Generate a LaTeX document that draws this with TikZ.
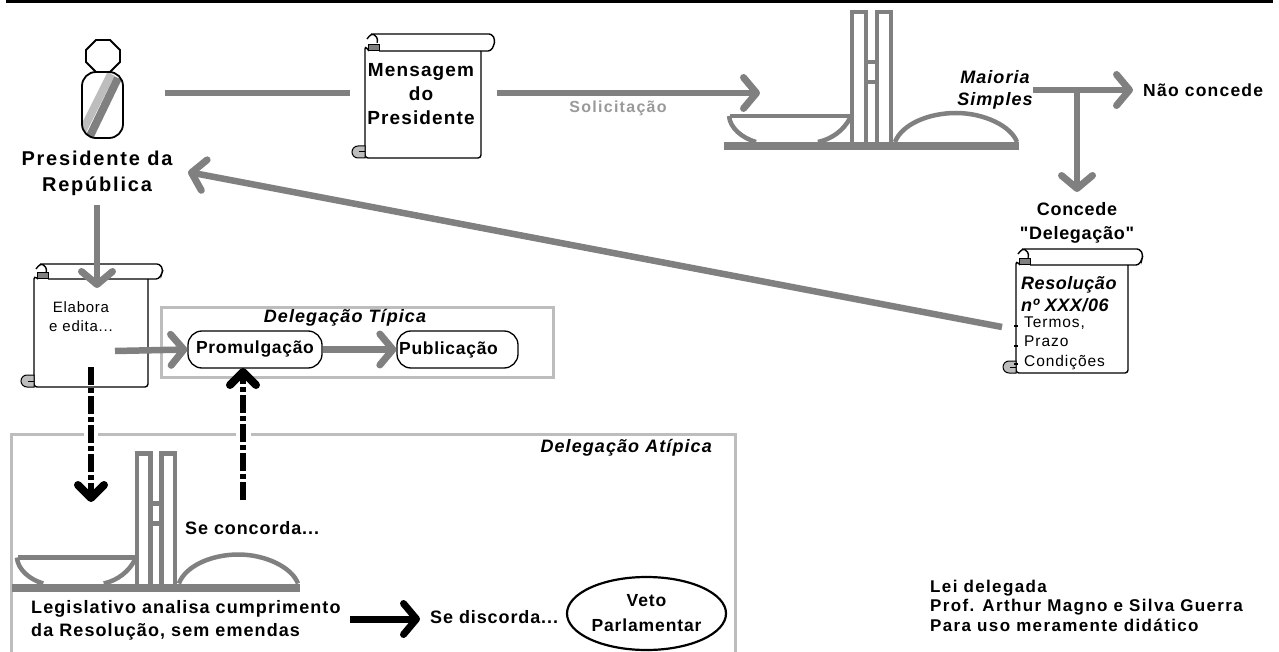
\documentclass[tikz,border=0pt]{standalone}
\usepackage{fontspec}
\setmainfont{Liberation Sans}[Ligatures=TeXOff]
\usetikzlibrary{arrows.meta,shapes.geometric,calc}
\definecolor{linegray}{gray}{0.5}
\definecolor{boxgray}{gray}{0.74}
\newcommand{\fnt}[3]{\fontsize{#1}{#2}\selectfont\addfontfeature{LetterSpace=#3}}
\tikzset{
  grayarrow/.style={draw=linegray,line width=6.5pt,-{Straight Barb[length=13pt,width=31pt,line width=7pt,round]}},
  grayline/.style={draw=linegray,line width=6.5pt},
  blackdash/.style={draw=black,line width=6pt,dash pattern=on 18pt off 3pt on 5pt off 3pt,-{Straight Barb[length=13pt,width=26pt,line width=8pt,round]}},
  group/.style={draw=boxgray,line width=3pt},
  txt/.style={inner sep=0pt},
  pill/.style={draw=black,line width=1.3pt,rounded corners=14pt,inner sep=0pt,minimum height=37pt,font=\bfseries\fnt{17.5}{20}{4}},
  holder/.style={draw=none,inner sep=0pt,outer sep=0pt,anchor=north west},
  scrollline/.style={draw=black,line width=1.4pt},
  congress/.style={draw=linegray,line width=4.5pt},
}
% #1 name, #2 left, #3 right, #4 roll top, #5 roll bottom, #6 body bottom, #7 roll right
\newcommand{\scrollshape}[7]{%
  \draw[scrollline,rounded corners=3pt] (#2+4,#5) -- (#2,#4+12) -- (#2,#6) -- (#3,#6) -- (#3,#5);
  \draw[scrollline,rounded corners=3pt] (#2+2,#4+5) -- (#2+6,#4) -- (#7-3,#4) -- (#7,#4+6) -- (#7-1,#5-6) -- (#7-4,#5) -- (#2+14,#5);
  \draw[scrollline] (#2+6,#4) arc[start angle=90,end angle=-20,radius=6.5pt];
  \draw[draw=black,fill=linegray,line width=1pt] (#2+3,#5-6) rectangle (#2+14,#5);
  \draw[draw=black,fill=boxgray,line width=1pt] (#2,#6-12) -- (#2-7,#6-12) arc[start angle=90,end angle=270,radius=6pt] -- (#2,#6) -- cycle;
  \draw[black,line width=1pt] (#2-6,#6-6) -- (#2,#6-6);
  \node[holder,minimum width=#3pt-#2pt,minimum height=#6pt-#4pt] (#1) at (#2,#4) {};
}
% #1 x of base left, #2 y of base top, #3 xscale
\newcommand{\congressshape}[3]{%
  \begin{scope}[shift={(#1,#2)},xscale=#3]
    \fill[linegray] (0,0) rectangle (295,8.5);
    \draw[congress] (128,0) -- (128,-130) -- (142,-130) -- (142,0);
    \draw[congress] (153,0) -- (153,-130) -- (167,-130) -- (167,0);
    \draw[congress] (142,-80) -- (153,-80) (142,-60) -- (153,-60);
    \draw[congress] (6,-26) -- (127,-26);
    \draw[congress] (5,-26) .. controls (6,-14) and (18,-4) .. (32,0);
    \draw[congress] (126,-24) .. controls (120,-12) and (108,-3) .. (94,0);
    \draw[congress] (171,0) .. controls (178,-18) and (205,-29) .. (232,-29) .. controls (260,-29) and (287,-16) .. (293,0);
  \end{scope}}
\begin{document}
\begin{tikzpicture}[x=1pt,y=-1pt]
\useasboundingbox (0,0) rectangle (1279,652);
\fill[black] (6,0) rectangle (1273,3.5);

% President figure
\node[holder,minimum width=41pt,minimum height=98pt] (person) at (82,40) {};
\begin{scope}
  \clip[rounded corners=14pt] (82,72) rectangle (123,138);
  \draw[boxgray,line width=8pt] (111,74) -- (83,130);
  \draw[linegray,line width=8pt] (118,78) -- (90,136);
\end{scope}
\draw[black,line width=1.8pt,rounded corners=14pt] (82,72) rectangle (123,138);
\draw[black,line width=1.8pt] (96,40) -- (110,40) -- (120,50) -- (120,62) -- (110,72) -- (96,72) -- (86,62) -- (86,50) -- cycle;
\node[txt,font=\bfseries\fnt{20}{26}{9},align=center] (pres) at (97,173) {Presidente da\\República};

% Scrolls
\scrollshape{msg}{365}{481}{34}{51}{158}{495}
\node[txt,font=\bfseries\fnt{19}{24}{6},align=center] (msgt) at (421,94) {Mensagem\\do\\Presidente};

\congressshape{724}{142}{1}
\node[txt,font=\bfseries\itshape\fnt{18}{22}{6},align=center] (maioria) at (995,90) {Maioria\\Simples};
\node[txt,font=\bfseries\fnt{17.5}{18}{7},anchor=west] (nao) at (1143,90) {Não concede};
\node[txt,font=\bfseries\fnt{18}{24}{4},align=center] (concede) at (1077,223) {Concede\\"Delegação"};

\scrollshape{res}{1016}{1128}{249}{265}{373}{1143}
\node[txt,font=\bfseries\itshape\fnt{18}{22}{3},align=left,anchor=west] (rest) at (1021,294) {Resolução\\nº XXX/06};
\node[txt,font=\fnt{15.5}{19.5}{6},align=left,anchor=west] (termos) at (1024,343) {Termos,\\Prazo\\Condições};
\foreach \yy in {325,345,363}{\fill[black] (1014,\yy) rectangle (1018,\yy+1.5);}

\scrollshape{ela}{34}{148}{264}{279}{387}{163}
\node[txt,font=\fnt{15}{19.5}{5},align=center] (elat) at (81,316.5) {Elabora\\e edita...};

% Delegacao Tipica
\node[holder,group,minimum width=392pt,minimum height=70pt] (tipica) at (161,307) {};
\node[txt,font=\bfseries\itshape\fnt{18}{18}{6}] (tipt) at (345,318) {Delegação Típica};
\node[pill,minimum width=134pt] (prom) at (255,349.5) {Promulgação};
\node[pill,minimum width=121pt] (pub) at (457.5,349.5) {};
\node[txt,font=\bfseries\fnt{17.5}{20}{4},anchor=west] (pubt) at (399,349.5) {Publicação};

% Delegacao Atipica (runs off the bottom edge)
\draw[group] (11,654) -- (11,434) -- (735,434) -- (735,654);
\node[holder,minimum width=724pt,minimum height=218pt] (atipica) at (11,434) {};
\node[txt,font=\bfseries\itshape\fnt{18}{18}{6},anchor=east] (atit) at (712,448) {Delegação Atípica};
\congressshape{12}{583.5}{0.976}
\node[txt,font=\bfseries\fnt{18}{18}{5},anchor=west] (conc) at (185,528) {Se concorda...};
\node[txt,font=\bfseries\fnt{18}{23}{6},align=left,anchor=west] (leg) at (31,620) {Legislativo analisa cumprimento\\da Resolução, sem emendas};
\node[txt,font=\bfseries\fnt{18}{18}{5},anchor=west] (disc) at (430,617) {Se discorda...};
\node[ellipse,draw=black,line width=2.2pt,inner sep=0pt,minimum width=159pt,minimum height=73pt,font=\bfseries\fnt{17.5}{25}{5},align=center] (veto) at (646.5,613.5) {Veto\\Parlamentar};
\node[txt,font=\bfseries\fnt{17}{19.5}{8},align=left,anchor=west] (cred) at (930,605.5) {Lei delegada\\Prof. Arthur Magno e Silva Guerra\\Para uso meramente didático};
\node[txt,font=\bfseries\fnt{16}{16}{8},text=linegray!80!white] (sol) at (618,108) {Solicitação};

% Connectors
\coordinate (branch) at (1077,90);
\coordinate (dashend) at (243,500);
\coordinate (dashstart) at (91,367);
\coordinate (dashtip) at (91,502);
\draw[grayline,shorten <=42pt,shorten >=15pt] ([yshift=-4pt]person.east) -- ([yshift=3pt]msg.west);
\draw[grayarrow,shorten <=16pt] ([yshift=3pt]msg.east) -- (760,93);
\draw[grayarrow] (1033,90) -- (1133,90);
\draw[grayarrow] (branch) -- (1077,192);
\draw[draw=linegray,line width=6.5pt,-{Straight Barb[length=13pt,width=31pt,line width=7pt,round]}] (1002,327) -- (188,172);
\draw[grayarrow] (97,205) -- (97,288);
\draw[grayarrow] (115,351) -- (prom.west);
\draw[grayarrow] (prom.east) -- (pub.west);
\fill[white] (84,431) rectangle (98,437);
\fill[white] (236,431) rectangle (251,437);
\draw[blackdash] (dashstart) -- (dashtip);
\draw[blackdash] (dashend) -- (243,368);
\draw[draw=black,line width=7pt,-{Straight Barb[length=13pt,width=31pt,line width=7pt,round]}] (350,619) -- (420,619);
\end{tikzpicture}
\end{document}
